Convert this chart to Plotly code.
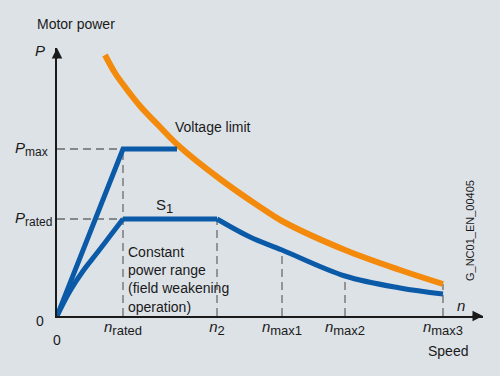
import plotly.graph_objects as go

# ---- data (speed n vs motor power P, arbitrary units) ----
n_ticks = [66, 160, 225, 288, 386]
n_subs = ["rated", "2", "max1", "max2", "max3"]
p_ticks = [97, 167]
p_subs = ["rated", "max"]

# Voltage limit curve
volt_n = [48, 58, 68, 83, 103, 123, 163, 203, 225, 288, 343, 386]
volt_p = [261, 243, 229, 210, 189, 169, 137, 109, 95, 66, 46, 32]

# Max power characteristic
pmax_n = [0, 66, 120]
pmax_p = [0, 167, 167]

# S1 characteristic: rise, constant power, decline
s1_rise_n = [0, 13, 26, 40, 53, 66]
s1_rise_p = [0, 25, 45, 63, 80, 97]
s1_flat_n = [66, 160]
s1_flat_p = [97, 97]
s1_fall_n = [160, 193, 225, 288, 343, 386]
s1_fall_p = [97, 79, 66, 40, 28, 22]

# dashed guide heights at each n tick
guide_top = [167, 97, 66, 40, 32]

BG = "#dde2e7"
BLUE = "#0b5aa8"
ORANGE = "#f38a0c"
TXT = "#1a1a1a"
GRID = "#6b6b6b"
FONT = "Liberation Sans, Arial, sans-serif"

# plot-area geometry in pixels (for paper-placed labels)
L, R, T, B = 57, 17, 48, 60
PW, PH = 500 - L - R, 376 - T - B

def px(x):
    return (x - L) / PW

def py(y):
    return (376 - B - y) / PH

def sub(s, size=13):
    return "<sub><span style='font-size:%dpx'>%s</span></sub>" % (size, s)

n_labels = ["<i>n</i>" + sub(s) for s in n_subs]
p_labels = ["<i>P</i>" + sub(s, 12) for s in p_subs]

fig = go.Figure()

dash = "8px,5px"
for x, top in zip(n_ticks, guide_top):
    fig.add_trace(go.Scatter(x=[x, x], y=[0, top], mode="lines",
                             line=dict(color=GRID, width=1.3, dash=dash),
                             hoverinfo="skip", showlegend=False))
for y in p_ticks:
    fig.add_trace(go.Scatter(x=[0, n_ticks[0]], y=[y, y], mode="lines",
                             line=dict(color=GRID, width=1.3, dash=dash),
                             hoverinfo="skip", showlegend=False))

fig.add_trace(go.Scatter(x=volt_n, y=volt_p, mode="lines",
                         line=dict(color=ORANGE, width=6, shape="spline", smoothing=1.0),
                         showlegend=False, hoverinfo="skip"))
fig.add_trace(go.Scatter(x=s1_rise_n, y=s1_rise_p, mode="lines",
                         line=dict(color=BLUE, width=5, shape="spline"), showlegend=False, hoverinfo="skip"))
fig.add_trace(go.Scatter(x=s1_flat_n, y=s1_flat_p, mode="lines",
                         line=dict(color=BLUE, width=5), showlegend=False, hoverinfo="skip"))
fig.add_trace(go.Scatter(x=s1_fall_n, y=s1_fall_p, mode="lines",
                         line=dict(color=BLUE, width=5, shape="spline"), showlegend=False, hoverinfo="skip"))
fig.add_trace(go.Scatter(x=pmax_n, y=pmax_p, mode="lines", line=dict(color=BLUE, width=5),
                         showlegend=False, hoverinfo="skip"))

ann = []
def txt(x, y, t, xa="left", ya="middle", size=14, angle=0, xref="x", yref="y"):
    ann.append(dict(x=x, y=y, xref=xref, yref=yref, text=t, showarrow=False, xanchor=xa, yanchor=ya,
                    font=dict(family=FONT, size=size, color=TXT), textangle=angle, align="left"))

# labels outside plot area (paper coords from pixel positions)
txt(px(35), py(24), "Motor power", xref="paper", yref="paper")
txt(px(40), py(51), "<i>P</i>", xa="center", size=15, xref="paper", yref="paper")
txt(px(426), py(351), "Speed", xref="paper", yref="paper")
txt(px(57), py(340), "0", xa="center", xref="paper", yref="paper")
txt(px(40), py(321), "0", xa="center", xref="paper", yref="paper")
for val, lab in zip(p_ticks, p_labels):
    txt(px(13), val, lab, xa="left", size=15, xref="paper", yref="y")

# labels inside plot area
txt(116, 189, "Voltage limit")
txt(107, 110, "S" + sub("1"), xa="center", size=15)
txt(69, 37, "Constant<br>power range<br>(field weakening<br>operation)")
txt(404, 11, "<i>n</i>", xa="center", size=15)
txt(413, 85, "G_NC01_EN_00405", xa="center", size=11, angle=-90)

# axis arrowheads
ann.append(dict(x=1.0, y=0, xref="paper", yref="paper", ax=-12, ay=0, axref="pixel", ayref="pixel",
                text="", showarrow=True, arrowhead=2, arrowsize=1.4, arrowwidth=1.5, arrowcolor=TXT))
ann.append(dict(x=0, y=1.0, xref="paper", yref="paper", ax=0, ay=12, text="", showarrow=True,
                arrowhead=2, arrowsize=1.4, arrowwidth=1.5, arrowcolor=TXT))

fig.update_layout(
    width=500, height=376,
    paper_bgcolor=BG, plot_bgcolor=BG,
    margin=dict(l=L, r=R, t=T, b=B),
    annotations=ann,
    font=dict(family=FONT, size=14, color=TXT),
    xaxis=dict(range=[0, PW], showgrid=False, zeroline=False, showline=True, linecolor=TXT, linewidth=1.5,
               tickvals=n_ticks, ticktext=n_labels, ticks="", tickfont=dict(size=15, color=TXT),
               ticklabelstandoff=-4, fixedrange=True),
    yaxis=dict(range=[0, PH], showgrid=False, zeroline=False, showline=True, linecolor=TXT, linewidth=1.5,
               tickvals=p_ticks, showticklabels=False, ticks="", fixedrange=True),
)

fig.write_html("out.html", config={"displayModeBar": False},
               post_script="document.body.style.margin='0';document.body.style.background='%s';" % BG)
